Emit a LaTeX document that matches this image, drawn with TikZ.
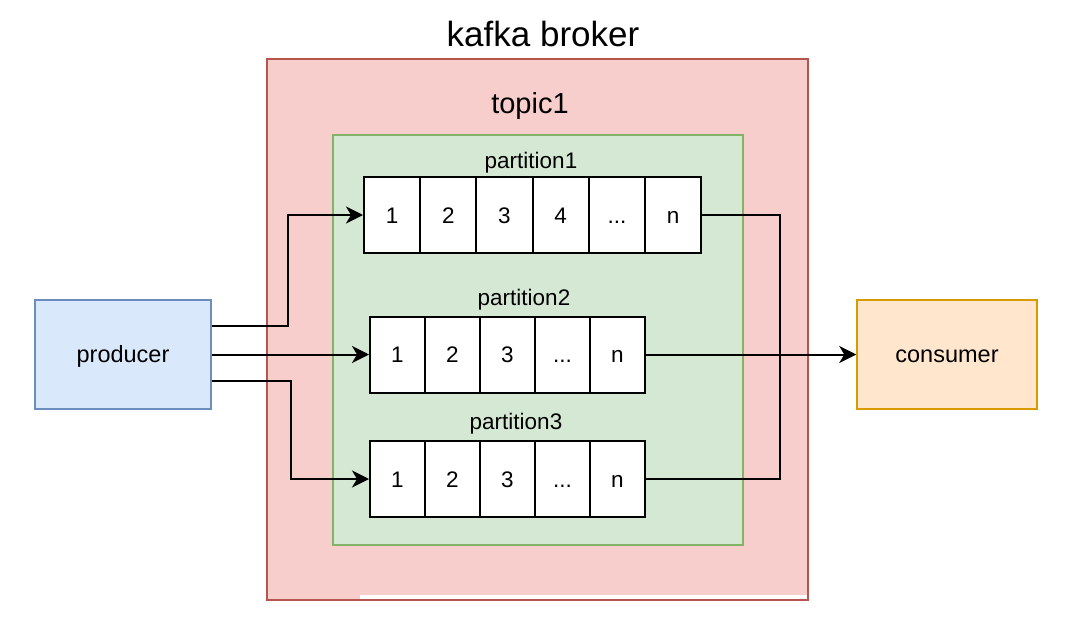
\documentclass[tikz,border=0pt]{standalone}
\usepackage{fontspec}
\setmainfont{Liberation Sans}
\usetikzlibrary{arrows.meta}

\definecolor{brokerfill}{HTML}{F8CECC}
\definecolor{brokerline}{HTML}{B85450}
\definecolor{topicfill}{HTML}{D5E8D4}
\definecolor{topicline}{HTML}{82B366}
\definecolor{prodfill}{HTML}{DAE8FC}
\definecolor{prodline}{HTML}{6C8EBF}
\definecolor{consfill}{HTML}{FFE6CC}
\definecolor{consline}{HTML}{D79B00}

\newcommand{\labelfont}{\fontsize{22.5}{24}\selectfont}
\newcommand{\celldots}{...}

\tikzset{
  cell/.style={draw,line width=2pt,fill=white,inner sep=0pt,
    minimum height=76pt,text height=16pt,text depth=0pt,font=\labelfont},
  client/.style={draw,line width=1.5pt,minimum height=109pt,inner sep=0pt,
    text height=16pt,text depth=0pt,font=\labelfont},
  flow/.style={line width=2pt,-{Stealth[length=17pt,width=17pt,inset=5pt]}},
  link/.style={line width=2pt}
}

\begin{document}
\begin{tikzpicture}[x=1pt,y=-1pt]

          \useasboundingbox (0,0) rectangle (1080,632);

          % broker and topic
          \draw[brokerline,fill=brokerfill,line width=1.5pt] (267,59) rectangle (808,600);
          \fill[white] (360,594.5) rectangle (806.5,598.8);
          \draw[topicline,fill=topicfill,line width=1.5pt] (333,135) rectangle (743,545);

          \node[anchor=base,font=\fontsize{35}{37}\selectfont] (broker) at (543,46) {kafka broker};
          \node[anchor=base,font=\fontsize{29}{31}\selectfont] (topic) at (530,113) {topic1};

          % partitions
          \node[anchor=base,font=\labelfont] (part1) at (531,168) {partition1};
          \foreach \i/\t in {1/1,2/2,3/3,4/4,5/\celldots,6/n}
              \node[cell,minimum width=56.2pt] (pa\i) at ({364+56.2*(\i-0.5)},215) {\t};

          \node[anchor=base,font=\labelfont] (part2) at (524,305) {partition2};
          \foreach \i/\t in {1/1,2/2,3/3,4/\celldots,5/n}
              \node[cell,minimum width=55pt] (pb\i) at ({370+55*(\i-0.5)},354.5) {\t};

          \node[anchor=base,font=\labelfont] (part3) at (516,429) {partition3};
          \foreach \i/\t in {1/1,2/2,3/3,4/\celldots,5/n}
              \node[cell,minimum width=55pt] (pc\i) at ({370+55*(\i-0.5)},479) {\t};

          % producer and consumer
          \node[client,fill=prodfill,draw=prodline,font=\fontsize{23.5}{25}\selectfont,minimum width=176pt] (prod) at (123,354.5) {producer};
          \node[client,fill=consfill,draw=consline,font=\fontsize{23.5}{25}\selectfont,minimum width=180pt] (cons) at (947,354.5) {consumer};

          % messages
          \draw[flow] ([yshift=29pt]prod.east) -- ++(76,0) |- (pa1.west);
          \draw[flow] (prod.east) -- (pb1.west);
          \draw[flow] ([yshift=-26pt]prod.east) -- ++(79,0) |- (pc1.west);
          \draw[link] (pa6.east) -- ++(78,0) |- (pc5.east);
          \draw[flow] (pb5.east) -- (cons.west);
      \end{tikzpicture}
\end{document}
